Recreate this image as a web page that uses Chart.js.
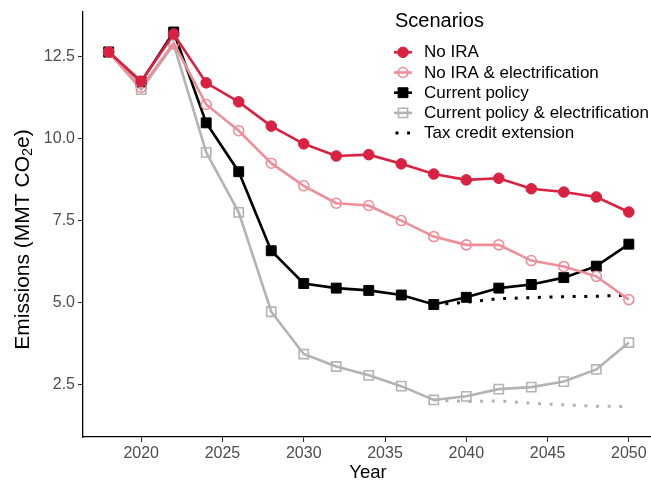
<!DOCTYPE html>
<html lang="en">
<head>
<meta charset="UTF-8">
<title>Emissions scenarios</title>
<script src="https://cdn.jsdelivr.net/npm/chart.js"></script>
<style>
  html, body { margin: 0; padding: 0; background: #fff; overflow: hidden; }
</style>
</head>
<body>
<!-- canvas is a bit wider than the window: the ggplot panel runs past the right edge -->
<canvas id="chart" width="661" height="484"></canvas>

<script>
// Data
var years = [2018, 2020, 2022, 2024, 2026, 2028, 2030, 2032, 2034, 2036, 2038, 2040, 2042, 2044, 2046, 2048, 2050];
var noIra          = [12.65, 11.76, 13.2, 11.71, 11.13, 10.39, 9.85, 9.48, 9.52, 9.24, 8.93, 8.75, 8.8, 8.48, 8.38, 8.23, 7.77];
var noIraElec      = [12.65, 11.57, 12.92, 11.05, 10.25, 9.26, 8.57, 8.04, 7.97, 7.51, 7.02, 6.77, 6.77, 6.29, 6.11, 5.81, 5.1];
var currentPolicy  = [12.65, 11.74, 13.26, 10.49, 9.0, 6.59, 5.59, 5.45, 5.38, 5.24, 4.95, 5.17, 5.45, 5.56, 5.77, 6.12, 6.79];
var currentElec    = [12.65, 11.5, 12.88, 9.59, 7.76, 4.73, 3.44, 3.06, 2.79, 2.46, 2.04, 2.15, 2.37, 2.43, 2.6, 2.97, 3.79];
var taxYears       = [2038, 2040, 2042, 2044, 2046, 2048, 2050];
var taxCredit      = [4.95, 5.02, 5.13, 5.16, 5.19, 5.2, 5.24];
var taxCreditElec  = [2.04, 1.99, 2.01, 1.94, 1.89, 1.85, 1.84];
var xTicks = [2020, 2025, 2030, 2035, 2040, 2045, 2050];
var yTicks = [2.5, 5.0, 7.5, 10.0, 12.5];

var RED = '#DA2142';
var PINK = '#EE8E99';
var GREY = '#B3B3B3';
var FONT = '"Liberation Sans", Arial, Helvetica, sans-serif';

function pts(xs, ys) {
    return xs.map(function(x, i) { return {x: x, y: ys[i]}; });
}

// legend + y title drawn by hand (ggplot style legend inside the panel, real subscript)
var legendPlugin = {
    id: 'ggLegend',
    afterDraw: function(chart) {
        var ctx = chart.ctx;
        ctx.save();
        ctx.fillStyle = '#000';
        ctx.textBaseline = 'middle';

        // y axis title with subscript 2
        var big = '21px ' + FONT, small = '14.5px ' + FONT;
        var p1 = 'Emissions (MMT CO', p2 = '2', p3 = 'e)';
        ctx.font = big; var w1 = ctx.measureText(p1).width, w3 = ctx.measureText(p3).width;
        ctx.font = small; var w2 = ctx.measureText(p2).width;
        var total = w1 + w2 + w3;
        ctx.save();
        ctx.translate(23, 239.5);
        ctx.rotate(-Math.PI / 2);
        var sx = -total / 2;
        ctx.font = big; ctx.fillText(p1, sx, 0);
        ctx.font = small; ctx.fillText(p2, sx + w1, 5);
        ctx.font = big; ctx.fillText(p3, sx + w1 + w2, 0);
        ctx.restore();

        ctx.font = '20px ' + FONT;
        ctx.fillText('Scenarios', 395, 21);
        ctx.font = '17px ' + FONT;
        var row = 0;
        chart.data.datasets.forEach(function(ds) {
            if (ds.noLegend) return;
            var y = 52.3 + row * 20.2;
            row++;
            ctx.save();
            ctx.strokeStyle = ds.borderColor;
            ctx.lineWidth = ds.borderWidth;
            ctx.setLineDash(ds.borderDash || []);
            ctx.beginPath();
            ctx.moveTo(ds.borderDash ? 395.5 : 394, y);
            ctx.lineTo(412, y);
            ctx.stroke();
            ctx.setLineDash([]);
            var r = ds.pointRadius;
            if (r > 0) {
                ctx.lineWidth = ds.pointBorderWidth;
                ctx.strokeStyle = ds.pointBorderColor;
                ctx.fillStyle = ds.pointBackgroundColor;
                ctx.beginPath();
                if (ds.pointStyle === 'rect') {
                    var s = r * Math.SQRT1_2;
                    ctx.rect(403 - s, y - s, 2 * s, 2 * s);
                } else {
                    ctx.arc(403, y, r, 0, Math.PI * 2);
                }
                ctx.fill();
                ctx.stroke();
            }
            ctx.restore();
            ctx.fillStyle = '#000';
            ctx.fillText(ds.label, 424, y + 0.5);
        });
        ctx.restore();
    }
};

var ctx = document.getElementById('chart').getContext('2d');
var myChart = new Chart(ctx, {
    type: 'line',
    data: {
        datasets: [
            {
                label: 'No IRA',
                data: pts(years, noIra),
                borderColor: RED, borderWidth: 2.6,
                pointStyle: 'circle', pointRadius: 5.3,
                pointBackgroundColor: RED, pointBorderColor: RED, pointBorderWidth: 1
            },
            {
                label: 'No IRA & electrification',
                data: pts(years, noIraElec),
                borderColor: PINK, borderWidth: 2.6,
                pointStyle: 'circle', pointRadius: 5,
                pointBackgroundColor: 'rgba(255,255,255,0)', pointBorderColor: PINK, pointBorderWidth: 1.6
            },
            {
                label: 'Current policy',
                data: pts(years, currentPolicy),
                borderColor: '#000', borderWidth: 2.6,
                pointStyle: 'rect', pointRadius: 7,
                pointBackgroundColor: '#000', pointBorderColor: '#000', pointBorderWidth: 1
            },
            {
                label: 'Current policy & electrification',
                data: pts(years, currentElec),
                borderColor: GREY, borderWidth: 2.6,
                pointStyle: 'rect', pointRadius: 6.5,
                pointBackgroundColor: 'rgba(255,255,255,0)', pointBorderColor: GREY, pointBorderWidth: 1.6
            },
            {
                label: 'Tax credit extension',
                data: pts(taxYears, taxCredit),
                borderColor: '#000', borderWidth: 3, borderDash: [3, 8.6], borderCapStyle: 'butt',
                pointRadius: 0, pointBorderWidth: 0,
                pointBackgroundColor: '#000', pointBorderColor: '#000'
            },
            {
                label: 'Tax credit extension (electrification)',
                noLegend: true,
                data: pts(taxYears, taxCreditElec),
                borderColor: GREY, borderWidth: 3, borderDash: [3, 8.6], borderCapStyle: 'butt',
                pointRadius: 0
            }
        ]
    },
    options: {
        responsive: false,
        animation: false,
        layout: { padding: { top: 12, right: 0, bottom: 0, left: 0 } },
        elements: { line: { tension: 0 } },
        plugins: {
            legend: { display: false },
            tooltip: { enabled: false }
        },
        scales: {
            x: {
                type: 'linear',
                min: 2016.42,
                max: 2051.48,
                afterBuildTicks: function(axis) {
                    axis.ticks = xTicks.map(function(v) { return {value: v}; });
                },
                afterFit: function(axis) {
                    axis.height = 47;
                    axis.paddingLeft = 0;
                    axis.paddingRight = 0;
                },
                ticks: {
                    color: '#4D4D4D',
                    font: { family: FONT, size: 16 },
                    padding: 2,
                    maxRotation: 0,
                    callback: function(v) { return String(v); }
                },
                grid: { drawOnChartArea: false, drawTicks: true, tickLength: 5, tickColor: '#333', tickWidth: 1.1 },
                border: { display: true, color: '#000', width: 1.3 },
                title: {
                    display: true,
                    text: 'Year',
                    color: '#000',
                    font: { family: FONT, size: 18.5 },
                    padding: { top: 0, bottom: 0 }
                }
            },
            y: {
                min: 0.91,
                max: 13.87,
                afterBuildTicks: function(axis) {
                    axis.ticks = yTicks.map(function(v) { return {value: v}; });
                },
                afterFit: function(axis) {
                    axis.width = 83;
                    axis.paddingTop = 0;
                    axis.paddingBottom = 0;
                },
                ticks: {
                    color: '#4D4D4D',
                    font: { family: FONT, size: 16 },
                    padding: 3,
                    callback: function(v) { return v.toFixed(1); }
                },
                grid: { drawOnChartArea: false, drawTicks: true, tickLength: 5, tickColor: '#333', tickWidth: 1.1 },
                border: { display: true, color: '#000', width: 1.3 },
                title: { display: false }
            }
        }
    },
    plugins: [legendPlugin]
});
</script>
</body>
</html>
